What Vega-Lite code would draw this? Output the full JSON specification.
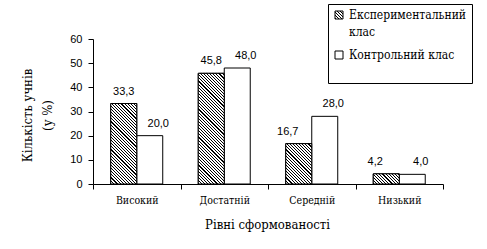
{
  "$schema": "https://vega.github.io/schema/vega-lite/v6.json",
  "width": 350,
  "height": 145,
  "autosize": "none",
  "padding": {"left": 93, "top": 39, "right": 44, "bottom": 65},
  "background": "white",
  "config": {
    "view": {"stroke": null},
    "locale": {"number": {"decimal": ",", "thousands": " ", "grouping": [3], "currency": ["", ""]}},
    "axis": {"domainColor": "black", "tickColor": "black", "labelColor": "black", "titleColor": "black", "grid": false, "domainWidth": 1, "tickWidth": 1},
    "style": {"guide-label": {"lineHeight": 17}}
  },
  "params": [
    {"name": "hatch", "value": [
      {"offset":0,"color":"#000"},{"offset":0.007,"color":"#000"},{"offset":0.007,"color":"#fff"},{"offset":0.02,"color":"#fff"},
      {"offset":0.02,"color":"#000"},{"offset":0.027,"color":"#000"},{"offset":0.027,"color":"#fff"},{"offset":0.04,"color":"#fff"},
      {"offset":0.04,"color":"#000"},{"offset":0.047,"color":"#000"},{"offset":0.047,"color":"#fff"},{"offset":0.06,"color":"#fff"},
      {"offset":0.06,"color":"#000"},{"offset":0.067,"color":"#000"},{"offset":0.067,"color":"#fff"},{"offset":0.08,"color":"#fff"},
      {"offset":0.08,"color":"#000"},{"offset":0.087,"color":"#000"},{"offset":0.087,"color":"#fff"},{"offset":0.1,"color":"#fff"},
      {"offset":0.1,"color":"#000"},{"offset":0.107,"color":"#000"},{"offset":0.107,"color":"#fff"},{"offset":0.12,"color":"#fff"},
      {"offset":0.12,"color":"#000"},{"offset":0.127,"color":"#000"},{"offset":0.127,"color":"#fff"},{"offset":0.14,"color":"#fff"},
      {"offset":0.14,"color":"#000"},{"offset":0.147,"color":"#000"},{"offset":0.147,"color":"#fff"},{"offset":0.16,"color":"#fff"},
      {"offset":0.16,"color":"#000"},{"offset":0.167,"color":"#000"},{"offset":0.167,"color":"#fff"},{"offset":0.18,"color":"#fff"},
      {"offset":0.18,"color":"#000"},{"offset":0.187,"color":"#000"},{"offset":0.187,"color":"#fff"},{"offset":0.2,"color":"#fff"},
      {"offset":0.2,"color":"#000"},{"offset":0.207,"color":"#000"},{"offset":0.207,"color":"#fff"},{"offset":0.22,"color":"#fff"},
      {"offset":0.22,"color":"#000"},{"offset":0.227,"color":"#000"},{"offset":0.227,"color":"#fff"},{"offset":0.24,"color":"#fff"},
      {"offset":0.24,"color":"#000"},{"offset":0.247,"color":"#000"},{"offset":0.247,"color":"#fff"},{"offset":0.26,"color":"#fff"},
      {"offset":0.26,"color":"#000"},{"offset":0.267,"color":"#000"},{"offset":0.267,"color":"#fff"},{"offset":0.28,"color":"#fff"},
      {"offset":0.28,"color":"#000"},{"offset":0.287,"color":"#000"},{"offset":0.287,"color":"#fff"},{"offset":0.3,"color":"#fff"},
      {"offset":0.3,"color":"#000"},{"offset":0.307,"color":"#000"},{"offset":0.307,"color":"#fff"},{"offset":0.32,"color":"#fff"},
      {"offset":0.32,"color":"#000"},{"offset":0.327,"color":"#000"},{"offset":0.327,"color":"#fff"},{"offset":0.34,"color":"#fff"},
      {"offset":0.34,"color":"#000"},{"offset":0.347,"color":"#000"},{"offset":0.347,"color":"#fff"},{"offset":0.36,"color":"#fff"},
      {"offset":0.36,"color":"#000"},{"offset":0.367,"color":"#000"},{"offset":0.367,"color":"#fff"},{"offset":0.38,"color":"#fff"},
      {"offset":0.38,"color":"#000"},{"offset":0.387,"color":"#000"},{"offset":0.387,"color":"#fff"},{"offset":0.4,"color":"#fff"},
      {"offset":0.4,"color":"#000"},{"offset":0.407,"color":"#000"},{"offset":0.407,"color":"#fff"},{"offset":0.42,"color":"#fff"},
      {"offset":0.42,"color":"#000"},{"offset":0.427,"color":"#000"},{"offset":0.427,"color":"#fff"},{"offset":0.44,"color":"#fff"},
      {"offset":0.44,"color":"#000"},{"offset":0.447,"color":"#000"},{"offset":0.447,"color":"#fff"},{"offset":0.46,"color":"#fff"},
      {"offset":0.46,"color":"#000"},{"offset":0.467,"color":"#000"},{"offset":0.467,"color":"#fff"},{"offset":0.48,"color":"#fff"},
      {"offset":0.48,"color":"#000"},{"offset":0.487,"color":"#000"},{"offset":0.487,"color":"#fff"},{"offset":0.5,"color":"#fff"},
      {"offset":0.5,"color":"#000"},{"offset":0.507,"color":"#000"},{"offset":0.507,"color":"#fff"},{"offset":0.52,"color":"#fff"},
      {"offset":0.52,"color":"#000"},{"offset":0.527,"color":"#000"},{"offset":0.527,"color":"#fff"},{"offset":0.54,"color":"#fff"},
      {"offset":0.54,"color":"#000"},{"offset":0.547,"color":"#000"},{"offset":0.547,"color":"#fff"},{"offset":0.56,"color":"#fff"},
      {"offset":0.56,"color":"#000"},{"offset":0.567,"color":"#000"},{"offset":0.567,"color":"#fff"},{"offset":0.58,"color":"#fff"},
      {"offset":0.58,"color":"#000"},{"offset":0.587,"color":"#000"},{"offset":0.587,"color":"#fff"},{"offset":0.6,"color":"#fff"},
      {"offset":0.6,"color":"#000"},{"offset":0.607,"color":"#000"},{"offset":0.607,"color":"#fff"},{"offset":0.62,"color":"#fff"},
      {"offset":0.62,"color":"#000"},{"offset":0.627,"color":"#000"},{"offset":0.627,"color":"#fff"},{"offset":0.64,"color":"#fff"},
      {"offset":0.64,"color":"#000"},{"offset":0.647,"color":"#000"},{"offset":0.647,"color":"#fff"},{"offset":0.66,"color":"#fff"},
      {"offset":0.66,"color":"#000"},{"offset":0.667,"color":"#000"},{"offset":0.667,"color":"#fff"},{"offset":0.68,"color":"#fff"},
      {"offset":0.68,"color":"#000"},{"offset":0.687,"color":"#000"},{"offset":0.687,"color":"#fff"},{"offset":0.7,"color":"#fff"},
      {"offset":0.7,"color":"#000"},{"offset":0.707,"color":"#000"},{"offset":0.707,"color":"#fff"},{"offset":0.72,"color":"#fff"},
      {"offset":0.72,"color":"#000"},{"offset":0.727,"color":"#000"},{"offset":0.727,"color":"#fff"},{"offset":0.74,"color":"#fff"},
      {"offset":0.74,"color":"#000"},{"offset":0.747,"color":"#000"},{"offset":0.747,"color":"#fff"},{"offset":0.76,"color":"#fff"},
      {"offset":0.76,"color":"#000"},{"offset":0.767,"color":"#000"},{"offset":0.767,"color":"#fff"},{"offset":0.78,"color":"#fff"},
      {"offset":0.78,"color":"#000"},{"offset":0.787,"color":"#000"},{"offset":0.787,"color":"#fff"},{"offset":0.8,"color":"#fff"},
      {"offset":0.8,"color":"#000"},{"offset":0.807,"color":"#000"},{"offset":0.807,"color":"#fff"},{"offset":0.82,"color":"#fff"},
      {"offset":0.82,"color":"#000"},{"offset":0.827,"color":"#000"},{"offset":0.827,"color":"#fff"},{"offset":0.84,"color":"#fff"},
      {"offset":0.84,"color":"#000"},{"offset":0.847,"color":"#000"},{"offset":0.847,"color":"#fff"},{"offset":0.86,"color":"#fff"},
      {"offset":0.86,"color":"#000"},{"offset":0.867,"color":"#000"},{"offset":0.867,"color":"#fff"},{"offset":0.88,"color":"#fff"},
      {"offset":0.88,"color":"#000"},{"offset":0.887,"color":"#000"},{"offset":0.887,"color":"#fff"},{"offset":0.9,"color":"#fff"},
      {"offset":0.9,"color":"#000"},{"offset":0.907,"color":"#000"},{"offset":0.907,"color":"#fff"},{"offset":0.92,"color":"#fff"},
      {"offset":0.92,"color":"#000"},{"offset":0.927,"color":"#000"},{"offset":0.927,"color":"#fff"},{"offset":0.94,"color":"#fff"},
      {"offset":0.94,"color":"#000"},{"offset":0.947,"color":"#000"},{"offset":0.947,"color":"#fff"},{"offset":0.96,"color":"#fff"},
      {"offset":0.96,"color":"#000"},{"offset":0.967,"color":"#000"},{"offset":0.967,"color":"#fff"},{"offset":0.98,"color":"#fff"},
      {"offset":0.98,"color":"#000"},{"offset":0.987,"color":"#000"},{"offset":0.987,"color":"#fff"},{"offset":1,"color":"#fff"}
    ]}
  ],
  "data": {"values": [
    {"level": "Високий", "cls": "Експериментальний клас", "v": 33.3},
    {"level": "Високий", "cls": "Контрольний клас", "v": 20.0},
    {"level": "Достатній", "cls": "Експериментальний клас", "v": 45.8},
    {"level": "Достатній", "cls": "Контрольний клас", "v": 48.0},
    {"level": "Середній", "cls": "Експериментальний клас", "v": 16.7},
    {"level": "Середній", "cls": "Контрольний клас", "v": 28.0},
    {"level": "Низький", "cls": "Експериментальний клас", "v": 4.2},
    {"level": "Низький", "cls": "Контрольний клас", "v": 4.0}
  ]},
  "encoding": {
    "x": {
      "field": "level", "type": "nominal",
      "sort": ["Високий", "Достатній", "Середній", "Низький"],
      "scale": {"paddingInner": 0, "paddingOuter": 0},
      "axis": {
        "title": "Рівні сформованості",
        "labelAngle": 0, "tickBand": "extent", "tickSize": 5, "labelPadding": 6,
        "labelFont": "DejaVu Serif Condensed", "labelFontSize": 10.5,
        "titleFont": "DejaVu Serif Condensed", "titleFontSize": 13, "titleFontWeight": "normal",
        "titleX": 174, "titleY": 40, "titleBaseline": "middle", "titleAlign": "center"
      }
    },
    "xOffset": {
      "field": "cls", "type": "nominal",
      "scale": {"domain": ["Експериментальний клас", "Контрольний клас"], "paddingInner": 0, "paddingOuter": 0.6827}
    },
    "y": {
      "field": "v", "type": "quantitative",
      "scale": {"domain": [0, 60], "nice": false},
      "axis": {
        "title": ["Кількість учнів", "(у %)"],
        "values": [0, 10, 20, 30, 40, 50, 60],
        "tickSize": 5, "labelPadding": 6,
        "labelFont": "Liberation Sans", "labelFontSize": 11,
        "titleFont": "DejaVu Serif Condensed", "titleFontSize": 13, "titleFontWeight": "normal",
        "titleX": -66, "titleY": 76, "titleAngle": -90, "titleAlign": "center", "titleBaseline": "middle", "titleLineHeight": 20
      }
    }
  },
  "layer": [
    {
      "mark": {"type": "bar", "stroke": "black", "strokeWidth": 1},
      "encoding": {
        "fill": {
          "field": "cls", "type": "nominal",
          "scale": {
            "domain": ["Експериментальний клас", "Контрольний клас"],
            "range": [{"expr": "{gradient:'linear',x1:0,y1:1,x2:9.7225,y2:-8.7225,stops:hatch}"}, "white"]
          },
          "legend": {
            "orient": "none", "legendX": 235, "legendY": -35,
            "title": null, "strokeColor": "black", "padding": 5,
            "symbolType": "square", "symbolSize": 64, "symbolStrokeColor": "black", "symbolStrokeWidth": 1,
            "labelFont": "DejaVu Serif Condensed", "labelFontSize": 12, "labelColor": "black", "labelOffset": 4,
            "rowPadding": 11, "labelLimit": 300,
            "labelExpr": "datum.label == 'Експериментальний клас' ? ['Експериментальний', 'клас'] : [datum.label, ' ']"
          }
        }
      }
    },
    {
      "transform": [{"filter": "datum.cls == 'Експериментальний клас'"}],
      "mark": {
        "type": "bar", "stroke": "black", "strokeWidth": 1,
        "fill": {"expr": "{gradient:'linear',x1:0,y1:1,x2:155.56*26/(pow(datum.v*145/60,2)+676),y2:1-155.56*(datum.v*145/60)/(pow(datum.v*145/60,2)+676),stops:hatch}"}
      }
    },
    {
      "mark": {
        "type": "text", "baseline": "alphabetic", "dy": -9,
        "font": "Liberation Sans", "fontSize": 11, "fill": "black",
        "dx": {"expr": "datum.cls == 'Контрольний клас' ? 8.5 : ((datum.level == 'Середній' || datum.level == 'Низький') ? -11 : 0)"}
      },
      "encoding": {
        "text": {"field": "v", "type": "quantitative", "format": ".1f"}
      }
    }
  ]
}
